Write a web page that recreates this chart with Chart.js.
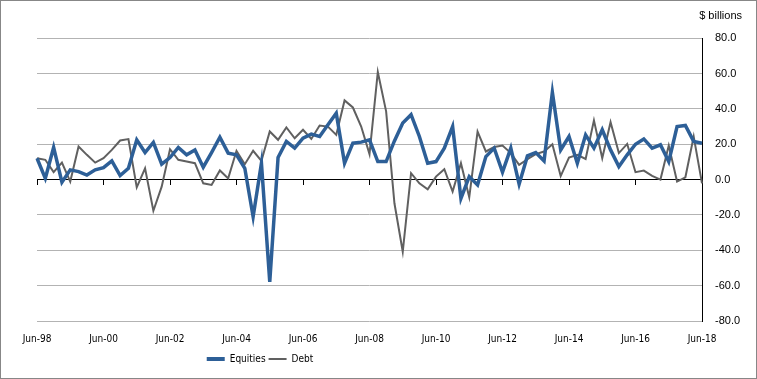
<!DOCTYPE html>
<html>
<head>
<meta charset="utf-8">
<script src="https://cdn.jsdelivr.net/npm/chart.js@4.4.0/dist/chart.umd.min.js"></script>
<style>
  html, body { margin: 0; padding: 0; background: #fff; }
  #wrap { width: 757px; height: 379px; box-sizing: border-box; border: 1px solid #878787; }
  canvas { display: block; }
</style>
</head>
<body>
<div id="wrap"><canvas id="chart" width="755" height="377"></canvas></div>
<script>
// Quarterly flows, $ billions, Jun-98 to Jun-18
const quarters = [
    'Jun-98', 'Sep-98', 'Dec-98', 'Mar-99', 'Jun-99', 'Sep-99', 'Dec-99', 'Mar-00',
    'Jun-00', 'Sep-00', 'Dec-00', 'Mar-01', 'Jun-01', 'Sep-01', 'Dec-01', 'Mar-02',
    'Jun-02', 'Sep-02', 'Dec-02', 'Mar-03', 'Jun-03', 'Sep-03', 'Dec-03', 'Mar-04',
    'Jun-04', 'Sep-04', 'Dec-04', 'Mar-05', 'Jun-05', 'Sep-05', 'Dec-05', 'Mar-06',
    'Jun-06', 'Sep-06', 'Dec-06', 'Mar-07', 'Jun-07', 'Sep-07', 'Dec-07', 'Mar-08',
    'Jun-08', 'Sep-08', 'Dec-08', 'Mar-09', 'Jun-09', 'Sep-09', 'Dec-09', 'Mar-10',
    'Jun-10', 'Sep-10', 'Dec-10', 'Mar-11', 'Jun-11', 'Sep-11', 'Dec-11', 'Mar-12',
    'Jun-12', 'Sep-12', 'Dec-12', 'Mar-13', 'Jun-13', 'Sep-13', 'Dec-13', 'Mar-14',
    'Jun-14', 'Sep-14', 'Dec-14', 'Mar-15', 'Jun-15', 'Sep-15', 'Dec-15', 'Mar-16',
    'Jun-16', 'Sep-16', 'Dec-16', 'Mar-17', 'Jun-17', 'Sep-17', 'Dec-17', 'Mar-18',
    'Jun-18'
];

const equities = [
    12.1, 0.7, 18.2, -1.5, 5.5, 4.5, 2.6, 5.5,
    6.8, 10.6, 2.3, 6.4, 22.5, 15.3, 21.0, 8.7,
    12.5, 18.2, 14.0, 16.8, 7.0, 15.3, 24.0, 15.0,
    14.0, 6.4, -21.0, 9.3, -57.9, 12.5, 21.6, 17.8,
    23.4, 25.7, 24.4, 31.0, 37.6, 9.3, 20.6, 21.2,
    22.5, 10.2, 10.2, 21.9, 32.0, 36.7, 24.4, 9.3,
    10.2, 17.8, 30.0, -10.6, 1.7, -3.0, 13.0, 17.8,
    4.2, 17.8, -2.6, 13.4, 15.3, 10.6, 49.4, 16.8,
    24.4, 9.3, 25.3, 17.8, 28.2, 16.8, 7.4, 14.0,
    20.0, 23.0, 17.8, 19.7, 10.2, 30.0, 30.6, 21.6,
    20.6
];

const debt = [
    12.1, 11.2, 4.2, 9.6, -1.1, 18.7, 14.0, 9.6,
    12.1, 16.8, 22.1, 22.9, -4.4, 6.4, -17.6, -4.0,
    17.2, 11.2, 10.2, 9.3, -2.1, -3.0, 5.2, 0.7,
    16.3, 8.7, 16.3, 10.6, 27.2, 22.5, 29.5, 23.4,
    28.2, 23.0, 30.6, 30.0, 25.3, 44.8, 40.8, 30.0,
    14.4, 60.9, 38.6, -13.4, -40.8, 3.6, -2.1, -5.5,
    1.7, 5.9, -6.8, 9.3, -10.0, 27.2, 15.9, 18.4,
    19.3, 15.0, 8.3, 11.5, 14.4, 15.9, 20.0, 2.0,
    12.5, 14.0, 11.7, 33.5, 12.1, 32.5, 15.0, 20.2,
    4.2, 5.1, 2.1, 0.0, 19.3, -1.1, 1.3, 24.4,
    -2.1
];

const LABEL_EVERY = 8;      // one label every two years
const LEGEND_CENTER = 259;  // legend sits left of centre in the original

const narrowFont = "'Liberation Sans Narrow', 'DejaVu Sans Condensed', 'Liberation Sans', sans-serif";
const plainFont = "'Liberation Sans', Arial, sans-serif";

// shift the legend so its items are centred where the original has them
const legendOffset = {
    id: 'legendOffset',
    afterLayout(chart) {
        const lg = chart.legend;
        if (lg) lg.right = 2 * LEGEND_CENTER - lg.left;
    }
};

new Chart(document.getElementById('chart'), {
    type: 'line',
    data: {
        labels: quarters,
        datasets: [
            {
                label: 'Equities',
                data: equities,
                borderColor: '#2D5F97',
                backgroundColor: '#2D5F97',
                pointBorderColor: '#2D5F97',
                borderWidth: 3.5,
                pointBorderWidth: 4,
            },
            {
                label: 'Debt',
                data: debt,
                borderColor: '#606060',
                backgroundColor: '#606060',
                pointBorderColor: '#606060',
                borderWidth: 2,
                pointBorderWidth: 2,
            },
        ],
    },
    options: {
        responsive: false,
        animation: false,
        devicePixelRatio: 1,
        layout: { padding: { left: 36, right: 14, top: 0, bottom: 4 } },
        elements: {
            point: { radius: 0, hoverRadius: 0 },
            line: { tension: 0 },
        },
        plugins: {
            tooltip: { enabled: false },
            title: {
                display: true,
                text: '$ billions',
                align: 'end',
                color: '#000',
                font: { family: plainFont, size: 11, weight: 'normal' },
                padding: { top: 8, bottom: 16 },
            },
            legend: {
                position: 'bottom',
                labels: {
                    usePointStyle: true,
                    pointStyle: 'line',
                    pointStyleWidth: 18,
                    color: '#000',
                    padding: 3,
                    font: { family: narrowFont, size: 10 },
                },
            },
        },
        scales: {
            x: {
                type: 'category',
                afterFit: scale => { scale.height = 30; },
                grid: { display: false, drawTicks: false },
                border: { display: false },
                ticks: {
                    autoSkip: false,
                    maxRotation: 0,
                    minRotation: 0,
                    padding: 12,
                    color: '#000',
                    font: { family: narrowFont, size: 10 },
                    callback: (v, i) => (i % LABEL_EVERY === 0 ? quarters[i] : ''),
                },
            },
            // zero line with its tick marks
            x2: {
                type: 'category',
                axis: 'x',
                position: { y: 0 },
                grid: {
                    drawOnChartArea: false,
                    drawTicks: true,
                    tickLength: 5,
                    color: ctx => (ctx.index % LABEL_EVERY === 0 ? '#000' : 'rgba(0,0,0,0)'),
                },
                border: { color: '#000', width: 1 },
                ticks: { display: false },
            },
            y: {
                position: 'right',
                min: -80,
                max: 80,
                afterFit: scale => { scale.width = 40; },
                grid: {
                    color: ctx => (ctx.tick && ctx.tick.value === 0 ? 'rgba(0,0,0,0)' : '#B3B3B3'),
                    drawTicks: false,
                },
                border: { color: '#000', width: 1 },
                ticks: {
                    stepSize: 20,
                    padding: 13,
                    color: '#000',
                    font: { family: plainFont, size: 11 },
                    callback: v => v.toFixed(1),
                },
            },
        },
    },
    plugins: [legendOffset],
});
</script>
</body>
</html>
